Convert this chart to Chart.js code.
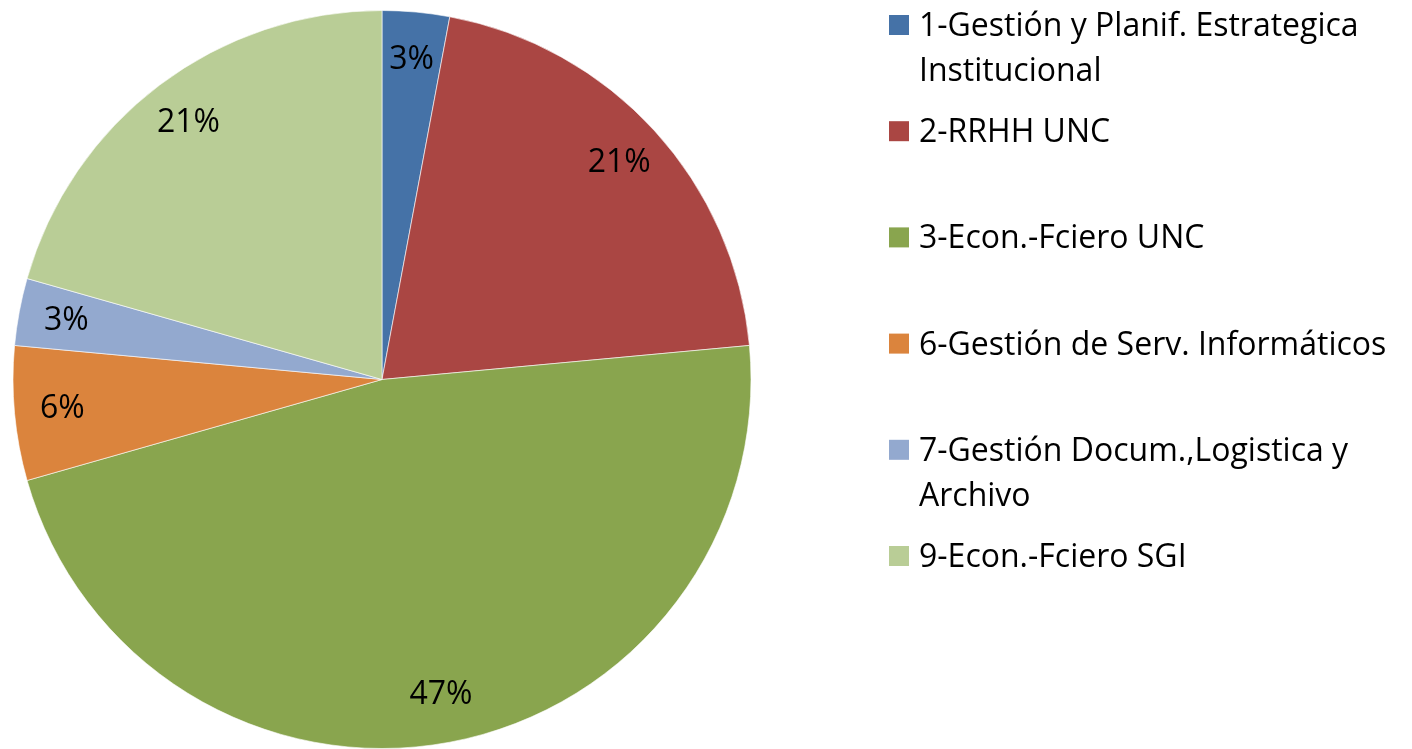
<!DOCTYPE html>
<html>
<head>
<meta charset="utf-8">
<script src="https://cdn.jsdelivr.net/npm/chart.js@4.4.1/dist/chart.umd.min.js"></script>
<style>
  html, body { margin: 0; padding: 0; background: #fff; }
  #chart { display: block; }
</style>
</head>
<body>
<canvas id="chart" width="1412" height="749"></canvas>
<script>
(function () {
    'use strict';

    // Categories, values (counts) and slice colours
    var categories = [
        '1-Gestión y Planif. Estrategica Institucional',
        '2-RRHH UNC',
        '3-Econ.-Fciero UNC',
        '6-Gestión de Serv. Informáticos',
        '7-Gestión Docum.,Logistica y Archivo',
        '9-Econ.-Fciero SGI'
    ];
    var values = [1, 7, 16, 2, 1, 7];
    var colors = ['#4572A7', '#AA4643', '#89A54E', '#DB843D', '#93A9CF', '#B9CD96'];

    var FONT = '32px "Open Sans", sans-serif';

    /* ─── Percentage labels inside the slices ─── */
    var pctLabels = {
        id: 'pctLabels',
        afterDatasetsDraw: function (chart) {
            var ctx = chart.ctx;
            var meta = chart.getDatasetMeta(0);
            var data = chart.data.datasets[0].data;
            var total = data.reduce(function (a, b) { return a + b; }, 0);
            ctx.save();
            ctx.font = FONT;
            ctx.fillStyle = '#000';
            ctx.textAlign = 'center';
            ctx.textBaseline = 'middle';
            meta.data.forEach(function (arc, i) {
                var p = arc.getProps(['x', 'y', 'startAngle', 'endAngle', 'outerRadius'], true);
                var mid = (p.startAngle + p.endAngle) / 2;
                var r = p.outerRadius * 0.87;
                var pct = Math.round(data[i] / total * 100) + '%';
                ctx.fillText(pct, p.x + Math.cos(mid) * r, p.y + Math.sin(mid) * r);
            });
            ctx.restore();
        }
    };

    /* ─── Legend on the right, wrapped like the original ─── */
    var sideLegend = {
        id: 'sideLegend',
        afterDraw: function (chart) {
            var ctx = chart.ctx;
            var area = chart.chartArea;
            var boxX = area.right + 136;
            var textX = boxX + 30;
            var maxW = chart.width - textX - 4;
            var firstBase = 36, step = 106.2, lineH = 45, box = 20;
            ctx.save();
            ctx.font = FONT;
            ctx.textAlign = 'left';
            ctx.textBaseline = 'alphabetic';
            chart.data.labels.forEach(function (label, i) {
                var base = firstBase + step * i;
                ctx.fillStyle = colors[i];
                ctx.fillRect(boxX, base - 21, box, box);
                // word wrap
                var words = label.split(' ');
                var lines = [], cur = '';
                words.forEach(function (w) {
                    var test = cur ? cur + ' ' + w : w;
                    if (cur && ctx.measureText(test).width > maxW) {
                        lines.push(cur);
                        cur = w;
                    } else {
                        cur = test;
                    }
                });
                if (cur) lines.push(cur);
                ctx.fillStyle = '#000';
                lines.forEach(function (ln, j) {
                    ctx.fillText(ln, textX, base + j * lineH);
                });
            });
            ctx.restore();
        }
    };

    new Chart(document.getElementById('chart'), {
        type: 'pie',
        data: {
            labels: categories,
            datasets: [{
                data: values,
                backgroundColor: colors,
                borderColor: 'rgba(255,255,255,0.6)',
                borderWidth: 1
            }]
        },
        options: {
            responsive: false,
            animation: false,
            layout: { padding: { left: 11, right: 659, top: 10, bottom: 0 } },
            plugins: {
                legend: { display: false },
                tooltip: { enabled: false }
            }
        },
        plugins: [pctLabels, sideLegend]
    });
})();
</script>
</body>
</html>
